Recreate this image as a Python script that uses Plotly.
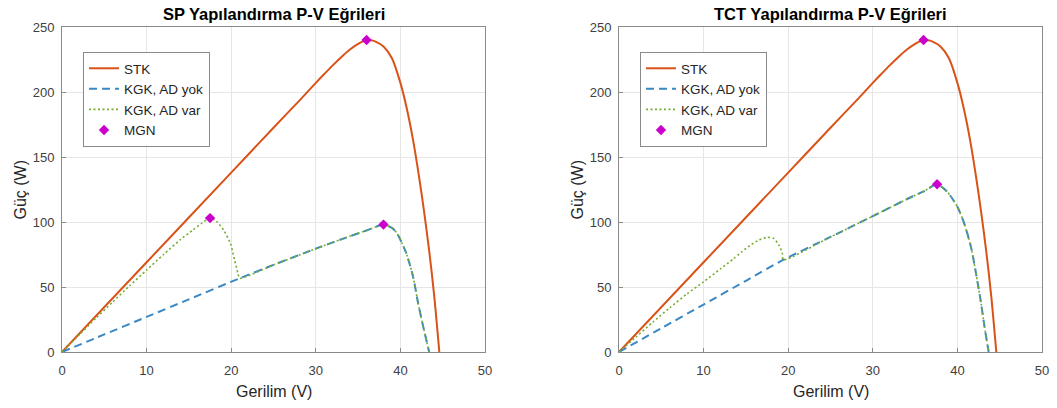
import plotly.graph_objects as go

# ---------------- data ----------------
stk_v = [0, 10, 20, 25, 28, 30, 31, 32, 33, 34, 35, 35.5, 36, 36.5, 37, 38, 39, 40, 40.8, 41.5, 42.2, 42.8, 43.4, 44, 44.6]
stk_p = [0, 69, 138, 172.5, 193, 207, 213.8, 220.5, 226.8, 232.5, 237, 238.7, 239.7, 239.8, 239, 235, 226, 207, 186, 163, 135, 108, 78, 43, 0]

sp_yok_v = [0, 5, 10, 15, 21, 25, 30, 34, 36, 38, 39, 39.6, 40.7, 41.5, 42.1, 42.7, 43.4]
sp_yok_p = [0, 13.5, 27, 40.5, 56.7, 67, 79.5, 89, 93.5, 98, 95.5, 91.3, 75.9, 57.9, 37.4, 19.5, 0]

sp_var_v = [0, 2, 4, 6, 8, 10, 12, 14, 15.5, 16.5, 17.5, 18.3, 19.1, 19.9, 20.4, 20.8, 21,
            25, 30, 34, 36, 38, 39, 39.6, 40.7, 41.5, 42.1, 42.7, 43.4]
sp_var_p = [0, 13, 26, 38.5, 51, 63, 75, 86.5, 94, 99, 103, 100.2, 93.8, 83.6, 70.8, 60.5, 56.7,
            67, 79.5, 89, 93.5, 98, 95.5, 91.3, 75.9, 57.9, 37.4, 19.5, 0]

sp_mgn_v = [36, 17.5, 38]
sp_mgn_p = [240, 103, 98]

tct_yok_v = [0, 5, 10, 15, 19.4, 25, 30, 34, 36, 37.6, 38.8, 40, 40.8, 41.6, 42.2, 42.8, 43.2, 43.7]
tct_yok_p = [0, 18.3, 36.5, 54.8, 70.8, 88.5, 104.5, 117.5, 123.5, 129, 123.3, 111.7, 99, 81, 60.5, 37.4, 19.5, 0]

tct_var_v = [0, 2, 4, 6, 8, 10, 12, 13.5, 14.5, 15.5, 16.5, 17.5, 18.3, 18.9, 19.3, 19.4,
             25, 30, 34, 36, 37.6, 38.8, 40, 40.8, 41.6, 42.2, 42.8, 43.2, 43.7]
tct_var_p = [0, 11.5, 23, 34, 44.5, 54, 64, 71.5, 77, 82, 86, 88.2, 87.4, 82.3, 75.9, 70.8,
             88.5, 104.5, 117.5, 123.5, 129, 123.3, 111.7, 99, 81, 60.5, 37.4, 19.5, 0]

tct_mgn_v = [36, 37.6]
tct_mgn_p = [240, 129]

x_ticks = [0, 10, 20, 30, 40, 50]
y_ticks = [0, 50, 100, 150, 200, 250]

titles = ["SP Yapılandırma P-V Eğrileri", "TCT Yapılandırma P-V Eğrileri"]
names = ["STK", "KGK, AD yok", "KGK, AD var", "MGN"]

# ---------------- styling ----------------
C_STK = "#D95319"
C_YOK = "#3A88C4"
C_VAR = "#77AC30"
C_MGN = "#CC00CC"
FONT = "Liberation Sans, Arial, sans-serif"

fig = go.Figure()

panels = [
    ("x", "y", "legend", sp_yok_v, sp_yok_p, sp_var_v, sp_var_p, sp_mgn_v, sp_mgn_p),
    ("x2", "y2", "legend2", tct_yok_v, tct_yok_p, tct_var_v, tct_var_p, tct_mgn_v, tct_mgn_p),
]

for xa, ya, lg, yv, yp, vv, vp, mv, mp in panels:
    fig.add_trace(go.Scatter(x=stk_v, y=stk_p, mode="lines", name=names[0], legend=lg,
                             line=dict(color=C_STK, width=2, shape="spline", smoothing=0.8),
                             xaxis=xa, yaxis=ya))
    fig.add_trace(go.Scatter(x=yv, y=yp, mode="lines", name=names[1], legend=lg,
                             line=dict(color=C_YOK, width=2, dash="8px,5px", shape="spline", smoothing=0.6),
                             xaxis=xa, yaxis=ya))
    fig.add_trace(go.Scatter(x=vv, y=vp, mode="lines", name=names[2], legend=lg,
                             line=dict(color=C_VAR, width=1.6, dash="2px,2.5px", shape="spline", smoothing=0.6),
                             xaxis=xa, yaxis=ya))
    fig.add_trace(go.Scatter(x=mv, y=mp, mode="markers", name=names[3], legend=lg,
                             marker=dict(symbol="diamond", size=8, color=C_MGN),
                             xaxis=xa, yaxis=ya))

W, H = 1057, 408
axis_common = dict(
    showgrid=True, gridcolor="#E6E6E6", gridwidth=1,
    showline=True, linecolor="#8A8A8A", linewidth=1, mirror=True,
    ticks="inside", ticklen=4, tickcolor="#8A8A8A",
    tickfont=dict(family=FONT, size=13, color="#404040"),
    zeroline=False, automargin=False,
)

ydom = [1 - 352 / H, 1 - 27 / H]
x1dom = [62 / W, 485 / W]
x2dom = [619 / W, 1042 / W]

legend_common = dict(xanchor="left", yanchor="top",
                     bordercolor="#8A8A8A", borderwidth=1, bgcolor="white",
                     font=dict(family=FONT, size=13.5, color="#262626"),
                     tracegroupgap=3, itemwidth=30, entrywidth=120, entrywidthmode="pixels")

fig.update_layout(
    width=W, height=H,
    margin=dict(l=0, r=0, t=0, b=0),
    paper_bgcolor="white", plot_bgcolor="white",
    font=dict(family=FONT, color="#262626"),
    xaxis=dict(domain=x1dom, range=[0, 50], tickvals=x_ticks, anchor="y", ticklabelstandoff=6, **axis_common),
    yaxis=dict(domain=ydom, range=[0, 250], tickvals=y_ticks, anchor="x", ticklabelstandoff=4, **axis_common),
    xaxis2=dict(domain=x2dom, range=[0, 50], tickvals=x_ticks, anchor="y2", ticklabelstandoff=6, **axis_common),
    yaxis2=dict(domain=ydom, range=[0, 250], tickvals=y_ticks, anchor="x2", ticklabelstandoff=4, **axis_common),
    legend=dict(x=83 / W, y=1 - 52 / H, **legend_common),
    legend2=dict(x=640 / W, y=1 - 52 / H, **legend_common),
    showlegend=True,
)

ann = []
for i, (dom, t) in enumerate(zip([x1dom, x2dom], titles)):
    cx = (dom[0] + dom[1]) / 2
    ann.append(dict(text="<b>" + t + "</b>", x=cx, y=1 - 14 / H, xref="paper", yref="paper",
                    showarrow=False, font=dict(family=FONT, size=16.5, color="#000000"),
                    xanchor="center", yanchor="middle"))
    ann.append(dict(text="Gerilim (V)", x=cx, y=1 - 391 / H, xref="paper", yref="paper",
                    showarrow=False, font=dict(family=FONT, size=16, color="#262626"),
                    xanchor="center", yanchor="middle"))
    ann.append(dict(text="Güç (W)", x=(dom[0] * W - 42) / W, y=1 - 189.5 / H, xref="paper", yref="paper",
                    showarrow=False, textangle=-90, font=dict(family=FONT, size=16, color="#262626"),
                    xanchor="center", yanchor="middle"))
fig.update_layout(annotations=ann)

fig.write_html("out.html", config={"displayModeBar": False},
               post_script="document.body.style.margin='0px';document.body.style.overflow='hidden';")
